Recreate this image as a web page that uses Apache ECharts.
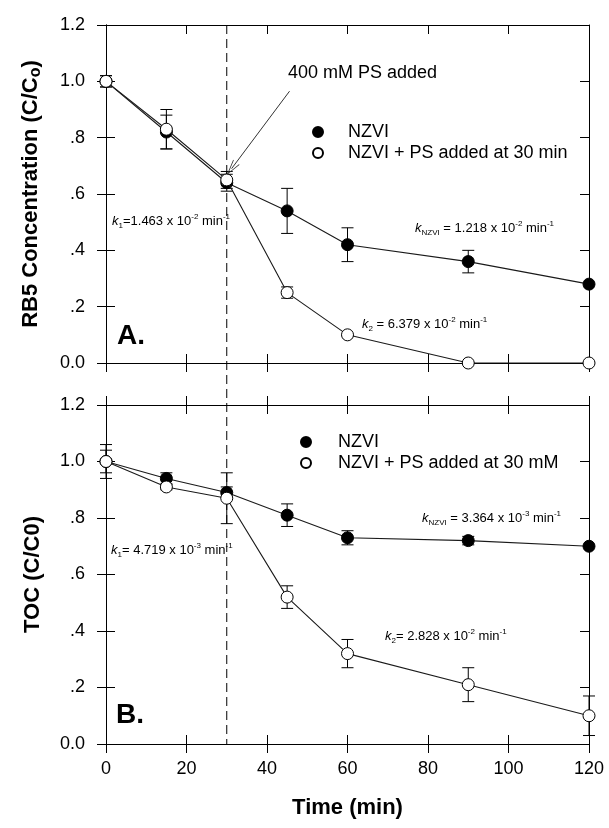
<!DOCTYPE html>
<html>
<head>
<meta charset="utf-8">
<script src="https://cdn.jsdelivr.net/npm/echarts@6/dist/echarts.min.js"></script>
<style>
  html, body { margin: 0; padding: 0; background: #fff; }
  #chart { width: 609px; height: 828px; }
</style>
</head>
<body>
<div id="chart"></div>
<script>
// sampling times (min)
var times = [0, 15, 30, 45, 60, 90, 120];

// panel A: RB5 concentration (C/Co)
var rb5Nzvi    = [1.00, 0.82, 0.64, 0.54, 0.42, 0.36, 0.28];
var rb5NzviErr = [0.02, 0.06, 0.03, 0.08, 0.06, 0.04, 0];
var rb5Ps      = [1.00, 0.83, 0.65, 0.25, 0.10, 0.00, 0.00];
var rb5PsErr   = [0.02, 0.07, 0.03, 0.02, 0, 0, 0];

// panel B: TOC (C/C0)
var tocNzvi    = [1.00, 0.94, 0.89, 0.81, 0.73, 0.72, 0.70];
var tocNzviErr = [0.04, 0.02, 0.02, 0.04, 0.025, 0.015, 0];
var tocPs      = [1.00, 0.91, 0.87, 0.52, 0.32, 0.21, 0.10];
var tocPsErr   = [0.06, 0.01, 0.09, 0.04, 0.05, 0.06, 0.07];

var FONT = '"Liberation Sans", Arial, sans-serif';
var dom = document.getElementById('chart');
var myChart = echarts.init(dom, null, { renderer: 'canvas' });

var xAxes = [], yAxes = [];

function axis(g, pos, inside, extra) {
  var a = {
    gridIndex: g,
    type: 'value',
    position: pos,
    axisLine: { show: true, onZero: false, lineStyle: { color: '#000', width: 1 } },
    axisTick: { show: true, inside: inside, length: 9, lineStyle: { color: '#000', width: 1 } },
    axisLabel: { show: false },
    splitLine: { show: false }
  };
  for (var k in extra) a[k] = extra[k];
  return a;
}

function yFmt(v) {
  if (Math.abs(v) < 1e-9) return '0.0';
  var s = v.toFixed(1);
  return v < 1 ? s.replace(/^0/, '') : s;
}

var nameStyle = {
  fontFamily: FONT, fontSize: 22, fontWeight: 'bold', color: '#000',
  rich: { sub: { fontFamily: FONT, fontSize: 16, fontWeight: 'bold', color: '#000', verticalAlign: 'bottom', lineHeight: 26 } }
};

function buildAxes(g, yName, isBottom) {
  var xr = { min: 0, max: 120, interval: 20 };
  var yr = { min: 0, max: 1.2, interval: 0.2 };
  var mx = xAxes.length;
  xAxes.push(axis(g, 'bottom', true, Object.assign({}, xr, isBottom ? {
    axisLabel: { show: true, fontFamily: FONT, fontSize: 18, color: '#000', margin: 16 },
    name: 'Time (min)', nameLocation: 'middle', nameGap: 53,
    nameTextStyle: { fontFamily: FONT, fontSize: 22, fontWeight: 'bold', color: '#000' }
  } : {})));
  xAxes.push(axis(g, 'bottom', false, Object.assign({}, xr)));
  xAxes.push(axis(g, 'top', true, Object.assign({}, xr)));
  if (isBottom) xAxes.push(axis(g, 'top', false, Object.assign({}, xr)));
  var my = yAxes.length;
  yAxes.push(axis(g, 'left', true, Object.assign({}, yr, {
    axisLabel: { show: true, fontFamily: FONT, fontSize: 18, color: '#000', margin: 21, formatter: yFmt },
    name: yName, nameLocation: 'middle', nameGap: 62, nameRotate: 90,
    nameTextStyle: nameStyle
  })));
  yAxes.push(axis(g, 'left', false, Object.assign({}, yr)));
  yAxes.push(axis(g, 'right', true, Object.assign({}, yr)));
  return { x: mx, y: my };
}

var axA = buildAxes(0, 'RB5 Concentration (C/C{sub|o})', false);
var axB = buildAxes(1, 'TOC (C/C0)', true);

function pairs(v) { return times.map(function (t, i) { return [t, v[i]]; }); }
function triples(v, e) { return times.map(function (t, i) { return [t, v[i], e[i]]; }); }

function errorBars(ax, v, e) {
  return {
    type: 'custom',
    xAxisIndex: ax.x, yAxisIndex: ax.y,
    z: 2, silent: true,
    encode: { x: 0, y: 1 },
    data: triples(v, e),
    renderItem: function (params, api) {
      var x = api.value(0), y = api.value(1), err = api.value(2);
      if (!err) return null;
      var hi = api.coord([x, y + err]);
      var lo = api.coord([x, y - err]);
      var w = 6;
      var st = { stroke: '#000', lineWidth: 1 };
      return {
        type: 'group',
        children: [
          { type: 'line', shape: { x1: hi[0], y1: hi[1], x2: lo[0], y2: lo[1] }, style: st },
          { type: 'line', shape: { x1: hi[0] - w, y1: hi[1], x2: hi[0] + w, y2: hi[1] }, style: st },
          { type: 'line', shape: { x1: lo[0] - w, y1: lo[1], x2: lo[0] + w, y2: lo[1] }, style: st }
        ]
      };
    }
  };
}

function lineSeries(ax, name, v, filled, extra) {
  var s = {
    name: name,
    type: 'line',
    xAxisIndex: ax.x, yAxisIndex: ax.y,
    data: pairs(v),
    symbol: 'circle',
    symbolSize: 12,
    z: filled ? 3 : 4,
    itemStyle: { color: filled ? '#000' : '#fff', borderColor: '#000', borderWidth: 1 },
    lineStyle: { color: '#1a1a1a', width: 1.1 }
  };
  for (var k in extra) s[k] = extra[k];
  return s;
}

var kRich = {
  k: { fontFamily: FONT, fontSize: 13, fontStyle: 'italic', color: '#333', lineHeight: 17 },
  s: { fontFamily: FONT, fontSize: 8, color: '#333', verticalAlign: 'bottom', lineHeight: 17 },
  t: { fontFamily: FONT, fontSize: 13, color: '#333', lineHeight: 17 },
  p: { fontFamily: FONT, fontSize: 8, color: '#333', verticalAlign: 'top', lineHeight: 17 }
};
function kText(left, top, sub, body, exp) {
  return {
    type: 'text', left: left, top: top, silent: true,
    style: {
      text: '{k|k}{s|' + sub + '}{t|' + body + '}{p|' + exp + '}{t| min}{p|-1}',
      rich: kRich
    }
  };
}

function legend(top, left, second, pad) {
  return {
    data: ['NZVI', second],
    orient: 'vertical',
    top: top, left: left,
    icon: 'circle',
    itemWidth: 10, itemHeight: 10, itemGap: 3,
    selectedMode: false,
    textStyle: { fontFamily: FONT, fontSize: 18, color: '#000', padding: [0, 0, 0, pad] }
  };
}

option = {
  animation: false,
  backgroundColor: '#fff',
  grid: [
    { left: 106, top: 25, width: 483, height: 338 },
    { left: 106, top: 405, width: 483, height: 339 }
  ],
  xAxis: xAxes,
  yAxis: yAxes,
  legend: [
    legend(118, 307, 'NZVI + PS added at 30 min', 20),
    legend(428, 295, 'NZVI + PS added at 30 mM', 22)
  ],
  series: [
    errorBars(axA, rb5Nzvi, rb5NzviErr),
    errorBars(axA, rb5Ps, rb5PsErr),
    lineSeries(axA, 'NZVI', rb5Nzvi, true),
    lineSeries(axA, 'NZVI + PS added at 30 min', rb5Ps, false, {
      markLine: {
        silent: true,
        symbol: ['none', 'path://M5,0 L10,16 L9,16 L5,3 L1,16 L0,16 Z'],
        symbolSize: [8, 16],
        label: { show: false },
        lineStyle: { color: '#333', type: 'solid', width: 1 },
        data: [[{ coord: [45.6, 0.965] }, { coord: [31.2, 0.69] }]]
      }
    }),
    errorBars(axB, tocNzvi, tocNzviErr),
    errorBars(axB, tocPs, tocPsErr),
    lineSeries(axB, 'NZVI', tocNzvi, true),
    lineSeries(axB, 'NZVI + PS added at 30 mM', tocPs, false)
  ],
  graphic: [
    { type: 'text', left: 288, top: 64, silent: true,
      style: { text: '400 mM PS added', fontFamily: FONT, fontSize: 18, fill: '#000' } },
    { type: 'text', left: 117, top: 322, silent: true,
      style: { text: 'A.', fontFamily: FONT, fontSize: 28, fontWeight: 'bold', fill: '#000' } },
    { type: 'text', left: 116, top: 701, silent: true,
      style: { text: 'B.', fontFamily: FONT, fontSize: 28, fontWeight: 'bold', fill: '#000' } },
    kText(112, 213, '1', '=1.463 x 10', '-2'),
    kText(415, 220, 'NZVI', ' = 1.218 x 10', '-2'),
    kText(362, 316, '2', ' = 6.379 x 10', '-2'),
    kText(111, 542, '1', '= 4.719 x 10', '-3'),
    kText(422, 510, 'NZVI', ' = 3.364 x 10', '-3'),
    kText(385, 628, '2', '= 2.828 x 10', '-2')
  ]
};

if (option && typeof option === "object") {
  myChart.setOption(option, true);
  // dashed line at PS addition time, running through both panels
  var p1 = myChart.convertToPixel({ gridIndex: 0 }, [30, 1.2]);
  var p2 = myChart.convertToPixel({ gridIndex: 1 }, [30, 0]);
  var g = option.graphic.slice();
  g.push({
    type: 'line', silent: true, z: 1,
    shape: { x1: p1[0], y1: p1[1], x2: p2[0], y2: p2[1] },
    style: { stroke: '#000', lineWidth: 1, lineDash: [9, 5] }
  });
  myChart.setOption({ graphic: g });
}
</script>
</body>
</html>
